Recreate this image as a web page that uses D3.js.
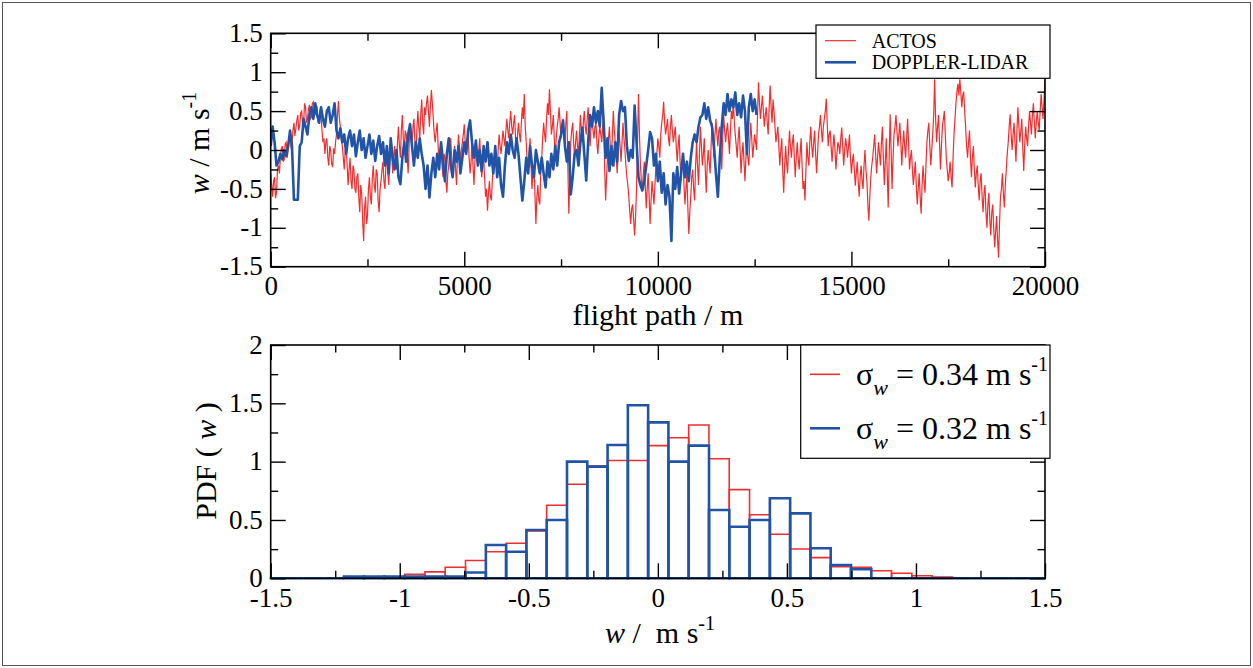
<!DOCTYPE html>
<meta charset="utf-8" />
<style>
  body {
    margin: 0;
    background: #fff;
  }
  svg, svg text {
    font-family: "Liberation Serif", "Times New Roman", serif;
  }
  .frame {
    fill: none;
    stroke: #000;
    stroke-width: 1.6;
  }
  .actos {
    fill: none;
    stroke: #ef2f2f;
    stroke-width: 1.2;
  }
  .lidar {
    fill: none;
    stroke: #2154a6;
    stroke-width: 2.6;
    stroke-linejoin: round;
  }
  .axis line {
    stroke: #000;
    stroke-width: 1.4;
  }
  .legend {
    fill: #fff;
    stroke: #000;
    stroke-width: 1.2;
  }
</style>
<body>
  <div id="chart"></div>
  <script src="https://d3js.org/d3.v7.min.js"></script>
  <script>
    const width = 1253;
    const height = 668;
    const serif = "Liberation Serif, Times New Roman, serif";

    // top panel: vertical wind w along the flight path
    const actosStep = 25; // m between ACTOS samples
    const actosW = [
      -0.30,-0.45,-0.60,-0.40,-0.35,-0.62,-0.55,-0.25,-0.20,-0.30,-0.10,0.02,0.05,-0.15,-0.12,0.08,0.10,-0.10,0.00,0.15,0.20,0.02,0.08,0.25,0.35,0.18,0.28,0.38,0.45,0.25,0.32,0.48,0.50,0.30,0.35,0.60,0.55,0.35,0.40,0.52,
      0.58,0.40,0.42,0.60,0.62,0.48,0.45,0.58,0.55,0.35,0.38,0.52,0.45,0.25,0.10,0.15,-0.05,0.10,0.15,-0.10,-0.20,0.05,0.00,-0.18,-0.22,0.02,-0.05,0.10,0.20,0.45,0.63,0.40,0.30,0.12,0.05,-0.10,-0.25,0.00,0.05,-0.20,
      -0.45,-0.25,-0.10,-0.40,-0.50,-0.20,-0.25,-0.50,-0.55,-0.35,-0.30,-0.60,-0.80,-0.45,-0.55,-0.90,-1.17,-0.75,-0.60,-0.95,-0.85,-0.50,-0.35,-0.60,-0.70,-0.35,-0.20,-0.45,-0.55,-0.25,-0.30,-0.65,-0.80,-0.50,-0.40,-0.25,-0.15,-0.40,-0.50,-0.20,
      -0.10,-0.30,-0.45,-0.10,0.15,-0.05,-0.30,-0.10,0.05,-0.15,-0.25,0.10,0.30,0.05,-0.10,0.25,0.45,0.15,0.00,0.25,0.20,-0.10,-0.30,0.05,0.35,0.15,0.05,0.30,0.40,0.10,-0.10,0.25,0.50,0.30,0.15,0.45,0.65,0.35,0.20,0.55,
      0.45,0.60,0.70,0.50,0.30,0.55,0.77,0.60,0.40,0.20,0.10,0.25,0.35,0.05,-0.15,0.00,0.10,-0.20,-0.35,-0.05,-0.10,-0.40,-0.55,-0.30,-0.20,0.00,0.15,-0.10,-0.30,-0.15,0.05,-0.25,-0.45,-0.05,0.20,0.05,-0.15,0.00,0.10,0.20,
      0.33,0.10,-0.05,0.05,0.20,-0.10,-0.30,-0.15,0.10,-0.20,-0.45,-0.15,0.05,-0.10,-0.20,0.00,0.15,-0.15,-0.35,-0.20,-0.10,-0.35,-0.60,-0.50,-0.78,-0.55,-0.40,-0.60,-0.65,-0.40,-0.20,-0.10,0.05,-0.15,-0.25,0.00,0.20,0.05,-0.05,0.10,
      0.25,0.15,0.05,0.25,0.40,0.25,0.15,0.35,0.50,0.30,0.20,0.35,0.45,0.15,0.00,0.20,0.35,0.20,0.10,0.35,0.55,0.40,0.72,0.30,0.10,-0.15,-0.30,-0.05,0.15,-0.20,-0.50,-0.30,-0.20,-0.55,-0.95,-0.60,-0.45,-0.65,-0.70,-0.30,
      -0.10,0.15,0.35,0.20,0.10,0.40,0.60,0.45,0.78,0.50,0.20,0.30,0.45,0.15,-0.10,0.15,0.30,0.40,0.55,0.35,0.15,0.30,0.40,0.20,0.10,0.35,0.50,-0.20,-0.82,-0.40,0.10,0.25,0.35,0.10,-0.10,0.10,0.25,0.05,-0.05,0.20,
      0.45,0.25,0.10,0.35,0.50,0.30,0.20,0.40,0.55,0.25,0.05,0.30,0.40,0.25,0.15,0.30,0.35,0.10,-0.05,0.15,0.30,0.20,0.10,0.30,0.45,-0.20,-0.65,-0.35,-0.10,0.15,0.30,0.00,-0.20,0.20,0.50,0.25,0.10,-0.10,-0.30,0.00,
      0.25,0.05,-0.15,0.10,0.35,0.15,0.00,-0.20,-0.35,-0.45,-0.60,-0.80,-0.95,-0.75,-0.70,-0.90,-1.10,-0.85,-0.50,0.10,0.72,0.20,-0.20,-0.40,-0.50,-0.30,-0.15,-0.45,-0.75,-0.50,-0.30,-0.60,-0.95,-0.65,-0.40,-0.55,-0.70,-0.45,-0.20,-0.05,
      0.15,0.05,-0.10,0.20,0.35,0.45,0.62,0.35,0.20,0.30,0.40,0.15,0.05,0.30,0.45,0.25,0.10,0.20,0.30,0.05,-0.15,0.05,0.20,-0.15,-0.40,-0.20,-0.10,-0.45,-0.70,-0.50,-0.30,-0.75,-1.08,-0.80,-0.60,-0.35,-0.25,-0.50,-0.65,-0.20,
      0.10,-0.20,-0.45,-0.05,0.30,0.05,-0.20,-0.05,0.15,-0.25,-0.55,-0.20,0.00,-0.15,-0.30,0.05,0.35,0.10,-0.10,0.20,0.40,0.20,0.05,0.25,0.30,0.00,-0.25,0.15,0.45,0.25,0.10,0.25,0.35,0.15,-0.05,0.25,0.50,0.40,0.63,0.35,
      0.20,0.05,-0.10,0.15,0.30,0.00,-0.30,-0.05,0.10,-0.15,-0.40,-0.10,0.05,-0.10,-0.20,0.10,0.35,0.15,-0.10,0.05,0.20,0.10,0.00,0.45,0.87,0.60,0.40,0.55,0.70,0.50,0.30,0.45,0.55,0.35,0.20,0.55,0.83,0.55,0.35,0.65,
      0.50,0.30,0.10,0.20,0.30,0.05,-0.20,0.00,0.15,-0.25,-0.55,-0.20,0.05,-0.15,-0.30,0.00,0.25,0.05,-0.10,0.10,0.20,-0.10,-0.35,-0.10,0.10,-0.10,-0.25,-0.05,0.15,-0.20,-0.50,-0.40,-0.65,-0.25,0.10,-0.10,-0.20,0.10,0.30,0.05,
      -0.10,0.10,0.25,-0.05,-0.30,-0.05,0.20,0.30,0.45,0.25,0.10,0.30,0.40,0.50,0.66,0.35,0.05,0.20,0.25,0.05,-0.15,0.05,0.20,0.00,-0.25,-0.05,0.10,0.05,-0.05,0.15,0.29,0.05,-0.20,0.00,0.15,0.05,-0.10,0.05,0.20,-0.10,
      -0.30,-0.15,-0.05,-0.25,-0.46,-0.30,-0.15,-0.40,-0.60,-0.35,-0.20,-0.40,-0.50,-0.20,0.00,-0.25,-0.40,-0.70,-0.91,-0.60,-0.35,-0.20,-0.10,0.05,0.20,-0.05,-0.30,-0.10,0.10,-0.05,-0.20,0.10,0.30,-0.10,-0.45,-0.15,0.15,-0.30,-0.74,-0.10,
      0.46,0.00,-0.50,-0.10,0.20,0.30,0.45,0.25,0.05,0.20,0.35,0.10,-0.20,0.05,0.25,0.05,-0.10,0.15,0.40,0.10,-0.25,-0.10,0.00,-0.25,-0.45,-0.30,-0.15,-0.45,-0.70,-0.50,-0.30,-0.60,-0.82,-0.45,-0.20,-0.40,-0.55,-0.20,0.10,0.25,
      0.35,0.05,-0.20,0.00,0.20,0.45,0.91,0.40,0.10,0.30,0.45,0.10,-0.25,0.05,0.30,0.40,0.50,0.20,-0.10,-0.25,-0.40,-0.30,-0.15,-0.35,-0.48,-0.10,0.20,0.40,0.60,0.75,0.85,0.70,0.91,0.75,0.55,0.70,0.75,0.50,0.30,0.05,
      -0.10,0.10,0.25,-0.10,-0.35,-0.10,0.05,-0.25,-0.48,-0.30,-0.20,-0.45,-0.65,-0.40,-0.30,-0.60,-0.80,-0.55,-0.45,-0.80,-1.00,-0.70,-0.55,-0.90,-1.10,-0.80,-0.70,-1.00,-1.25,-1.05,-0.85,-1.15,-1.38,-0.95,-0.60,-0.50,-0.30,-0.55,-0.74,-0.45,
      -0.25,-0.05,0.10,0.30,0.46,0.20,0.00,0.20,0.35,0.10,-0.15,0.25,0.55,0.30,0.10,0.25,0.40,0.05,-0.27,0.05,0.30,0.15,0.05,0.30,0.50,0.35,0.20,0.45,0.60,0.35,0.15,0.35,0.50,0.35,0.25,0.50,0.72,0.55,0.40,0.65,0.90
    ];
    const lidarStep = 50; // m between lidar samples
    const lidarW = [
      0.05,0.30,0.10,-0.20,-0.15,-0.05,-0.12,0.00,-0.08,0.05,0.25,0.05,-0.64,-0.64,-0.64,0.05,0.10,0.40,0.30,0.20,
      0.45,0.55,0.40,0.60,0.45,0.35,0.55,0.40,0.30,0.50,0.55,0.35,0.45,0.60,0.25,0.15,0.28,0.10,0.20,-0.05,
      0.15,0.25,0.05,0.20,-0.08,0.10,0.25,0.00,0.15,-0.10,0.05,0.20,-0.05,0.12,-0.14,0.05,0.18,-0.05,0.10,-0.20,
      0.05,-0.30,0.15,-0.10,-0.25,0.00,-0.35,-0.44,-0.10,0.10,-0.15,0.20,0.33,0.05,-0.20,0.10,-0.10,0.15,-0.05,-0.20,
      -0.50,-0.20,-0.61,-0.30,-0.10,-0.35,-0.05,-0.25,0.10,-0.15,-0.40,-0.05,0.15,-0.20,-0.35,0.00,-0.15,0.05,-0.30,-0.10,
      0.10,-0.05,0.25,0.38,0.10,-0.10,0.12,-0.20,0.00,-0.27,0.05,-0.15,0.10,-0.20,-0.05,-0.30,0.05,-0.35,-0.10,-0.45,
      -0.60,-0.20,0.10,-0.05,0.20,0.00,-0.10,0.15,-0.05,-0.35,-0.65,-0.40,-0.10,-0.30,0.05,-0.20,-0.35,0.00,-0.15,-0.30,
      -0.10,-0.30,-0.48,-0.15,-0.35,-0.05,-0.25,0.05,-0.20,0.10,0.20,0.38,0.05,-0.15,0.10,-0.57,-0.35,-0.05,0.00,-0.20,
      0.10,0.29,-0.05,-0.39,0.10,0.45,0.30,0.55,0.35,0.50,0.30,0.80,0.35,-0.10,0.15,-0.27,0.05,-0.20,0.10,-0.15,
      0.45,0.63,0.50,0.55,0.05,-0.14,0.00,-0.10,0.57,0.10,-0.35,-0.45,-0.52,-0.40,-0.20,0.00,0.23,0.15,-0.20,-0.05,
      -0.40,-0.15,-0.55,-0.30,-0.70,-0.45,-0.60,-1.17,-0.30,-0.50,-0.22,-0.56,-0.30,-0.05,-0.35,-0.15,-0.40,-0.10,0.10,0.20,
      0.10,0.30,0.42,0.45,0.60,0.40,0.55,0.38,0.30,0.05,-0.30,-0.60,-0.10,0.30,0.60,0.45,0.72,0.50,0.65,0.55,
      0.74,0.45,0.60,0.42,0.70,0.50,-0.05,0.55,0.72,0.50,0.65,0.45
    ];
    const topLegend = ["ACTOS", "DOPPLER-LIDAR"];

    // bottom panel: PDF of w, shared bin width
    const binWidth = 0.0786;
    const actosBinStart = -0.981;
    const actosPdf = [
      0.035,0.055,0.095,0.152,0.228,0.300,0.405,0.626,0.806,0.963,1.010,1.010,1.137,1.205,
      1.314,1.025,0.760,0.545,0.377,0.251,0.177,0.100,0.094,0.065,0.043,0.022,0.011
    ];
    const lidarBinStart = -1.531;
    const lidarPdf = [
      0,0,0,0,0.015,0.015,0.015,0.015,0.015,0.015,0.050,0.285,0.228,0.414,0.500,1.000,0.957,
      1.143,1.483,1.337,1.000,1.137,0.585,0.442,0.500,0.686,0.557,0.257,0.114,0.077,
      0,0,0,0,0,0,0,0,0
    ];
    const sigmaW = ["0.34", "0.32"];

    const topTicksX = [0, 5000, 10000, 15000, 20000];
    const topMinorX = [2500, 7500, 12500, 17500];
    const topTicksY = [-1.5, -1, -0.5, 0, 0.5, 1, 1.5];
    const topMinorY = [-1.25, -0.75, -0.25, 0.25, 0.75, 1.25];
    const botTicksX = [-1.5, -1, -0.5, 0, 0.5, 1, 1.5];
    const botMinorX = [-1.25, -0.75, -0.25, 0.25, 0.75, 1.25];
    const botTicksY = [0, 0.5, 1, 1.5, 2];
    const botMinorY = [0.25, 0.75, 1.25, 1.75];

    const red = "#ef2f2f";
    const blue = "#2154a6";
    const left = 270.7, right = 1045;

    const svg = d3
      .select("#chart")
      .append("svg")
      .attr("width", width)
      .attr("height", height)
      .attr("font-family", serif);

    svg.append("rect")
      .attr("x", 2.5).attr("y", 2.5)
      .attr("width", width - 5).attr("height", height - 5)
      .attr("fill", "none").attr("stroke", "#555").attr("stroke-width", 1);

    const xTop = d3.scaleLinear().domain([0, 20000]).range([left, right]);
    const yTop = d3.scaleLinear().domain([-1.5, 1.5]).range([266.7, 33.3]);
    const xBot = d3.scaleLinear().domain([-1.5, 1.5]).range([left, right]);
    const yBot = d3.scaleLinear().domain([0, 2]).range([578.3, 345]);

    const defs = svg.append("defs");
    defs.append("clipPath").attr("id", "clipTop").append("rect")
      .attr("x", left).attr("y", 33.3).attr("width", right - left).attr("height", 233.4);
    defs.append("clipPath").attr("id", "clipBot").append("rect")
      .attr("x", left - 1).attr("y", 340).attr("width", right - left + 2).attr("height", 240);

    // mirrored inward ticks on all four sides
    const drawAxes = (x, y, tx, mx, ty, my, x0, x1, y0, y1, labelGap) => {
      const styleAxis = (g) => {
        g.select(".domain").remove();
        g.attr("font-family", serif).attr("font-size", 27);
        g.selectAll("text").attr("fill", "#000").attr("font-family", serif);
      };
      const fmt = (d) => String(d);
      svg.append("g").attr("class", "axis").attr("transform", `translate(0,${y0})`)
        .call(d3.axisBottom(x).tickValues(tx).tickSize(-15).tickPadding(labelGap).tickFormat(fmt))
        .call(styleAxis);
      svg.append("g").attr("class", "axis").attr("transform", `translate(0,${y0})`)
        .call(d3.axisBottom(x).tickValues(mx).tickSize(-7.5).tickFormat(""))
        .call(styleAxis);
      svg.append("g").attr("class", "axis").attr("transform", `translate(0,${y1})`)
        .call(d3.axisTop(x).tickValues(tx).tickSize(-15).tickFormat(""))
        .call(styleAxis);
      svg.append("g").attr("class", "axis").attr("transform", `translate(0,${y1})`)
        .call(d3.axisTop(x).tickValues(mx).tickSize(-7.5).tickFormat(""))
        .call(styleAxis);
      svg.append("g").attr("class", "axis").attr("transform", `translate(${x0},0)`)
        .call(d3.axisLeft(y).tickValues(ty).tickSize(-15).tickPadding(8).tickFormat(fmt))
        .call(styleAxis)
        .selectAll("text").attr("dy", "0.3em");
      svg.append("g").attr("class", "axis").attr("transform", `translate(${x0},0)`)
        .call(d3.axisLeft(y).tickValues(my).tickSize(-7.5).tickFormat(""))
        .call(styleAxis);
      svg.append("g").attr("class", "axis").attr("transform", `translate(${x1},0)`)
        .call(d3.axisRight(y).tickValues(ty).tickSize(-15).tickFormat(""))
        .call(styleAxis);
      svg.append("g").attr("class", "axis").attr("transform", `translate(${x1},0)`)
        .call(d3.axisRight(y).tickValues(my).tickSize(-7.5).tickFormat(""))
        .call(styleAxis);
      svg.append("rect").attr("class", "frame")
        .attr("x", x0).attr("y", y1).attr("width", x1 - x0).attr("height", y0 - y1);
    };

    // ---- top panel ----
    const gTop = svg.append("g").attr("clip-path", "url(#clipTop)");
    const lineOf = (step) => d3.line().x((d, i) => xTop(i * step)).y((d) => yTop(d));
    gTop.append("path").datum(actosW).attr("class", "actos").attr("d", lineOf(actosStep));
    gTop.append("path").datum(lidarW).attr("class", "lidar").attr("d", lineOf(lidarStep));

    drawAxes(xTop, yTop, topTicksX, topMinorX, topTicksY, topMinorY, left, right, 266.7, 33.3, 9);

    svg.append("text")
      .attr("x", (left + right) / 2).attr("y", 325)
      .attr("text-anchor", "middle").attr("font-size", 30)
      .text("flight path / m");

    const yLab = svg.append("text")
      .attr("transform", "translate(209,143) rotate(-90)")
      .attr("text-anchor", "middle").attr("font-size", 30);
    yLab.append("tspan").attr("font-style", "italic").text("w");
    yLab.append("tspan").text(" / m s");
    yLab.append("tspan").attr("font-size", 20).attr("dy", -13).text("-1");

    const legTop = svg.append("g");
    legTop.append("rect").attr("class", "legend")
      .attr("x", 816).attr("y", 25).attr("width", 234).attr("height", 53.3);
    topLegend.forEach((name, i) => {
      const yy = 40.7 + i * 21.6;
      legTop.append("line")
        .attr("x1", 825).attr("x2", 856).attr("y1", yy).attr("y2", yy)
        .attr("stroke", i ? blue : red).attr("stroke-width", i ? 2.6 : 1.2);
      legTop.append("text")
        .attr("x", 871.7).attr("y", yy + 6.8).attr("font-size", 20)
        .text(name);
    });

    // ---- bottom panel ----
    const gBot = svg.append("g").attr("clip-path", "url(#clipBot)");
    const drawHist = (vals, start, color, sw) => {
      const y0 = yBot(0);
      gBot.append("g").selectAll("path")
        .data(vals)
        .join("path")
        .attr("d", (d, i) => {
          const a = xBot(start + i * binWidth);
          const b = xBot(start + (i + 1) * binWidth);
          return `M${a},${y0}V${yBot(d)}H${b}V${y0}Z`;
        })
        .attr("fill", "none")
        .attr("stroke", color)
        .attr("stroke-width", sw);
    };
    drawHist(actosPdf, actosBinStart, red, 1.6);
    drawHist(lidarPdf, lidarBinStart, blue, 2.6);

    drawAxes(xBot, yBot, botTicksX, botMinorX, botTicksY, botMinorY, left, right, 578.3, 345, 10);

    const xLab = svg.append("text")
      .attr("x", 660).attr("y", 643)
      .attr("text-anchor", "middle").attr("font-size", 30);
    xLab.append("tspan").attr("font-style", "italic").text("w");
    xLab.append("tspan").text(" /\u00a0 m s");
    xLab.append("tspan").attr("font-size", 20).attr("dy", -13).text("-1");

    const pLab = svg.append("text")
      .attr("transform", "translate(216,461) rotate(-90)")
      .attr("text-anchor", "middle").attr("font-size", 30);
    pLab.append("tspan").text("PDF ( ");
    pLab.append("tspan").attr("font-style", "italic").text("w");
    pLab.append("tspan").text(" )");

    const legBot = svg.append("g");
    legBot.append("rect").attr("class", "legend")
      .attr("x", 800.7).attr("y", 345).attr("width", 249.3).attr("height", 113.3);
    sigmaW.forEach((s, i) => {
      const yy = 374.3 + i * 54;
      legBot.append("line")
        .attr("x1", 810).attr("x2", 840).attr("y1", yy).attr("y2", yy)
        .attr("stroke", i ? blue : red).attr("stroke-width", i ? 2.6 : 1.6);
      const t = legBot.append("text")
        .attr("x", 856).attr("y", yy + 10.7).attr("font-size", 32);
      t.append("tspan").text("\u03c3");
      t.append("tspan").attr("font-style", "italic").attr("font-size", 22).attr("dy", 10).text("w");
      t.append("tspan").attr("dy", -10).text(" = " + s + " m s");
      t.append("tspan").attr("font-size", 20).attr("dy", -14).text("-1");
    });
  </script>
</body>
